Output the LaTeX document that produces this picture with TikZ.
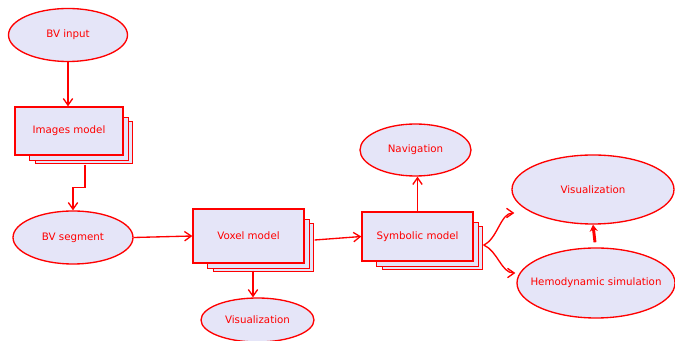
\documentclass[tikz,border=0pt]{standalone}
\usepackage{fontspec}
\setmainfont{DejaVu Sans}
\usepackage{xcolor}
\usetikzlibrary{shapes.geometric, arrows.meta, backgrounds, calc}
\definecolor{BVRed}{RGB}{255,0,0}
\definecolor{BVFill}{RGB}{229,229,248}
\tikzset{
  term/.style={
    ellipse, draw=BVRed, fill=BVFill, line width=1pt,
    inner xsep=-20pt, inner ysep=0pt,
    text=BVRed, font=\fontsize{7.7}{9}\selectfont
  },
  model/.style={
    rectangle, draw=BVRed, fill=BVFill, line width=1pt,
    inner sep=0pt, text=BVRed, font=\fontsize{7.7}{9}\selectfont
  },
  sheet/.style={draw=BVRed, fill=BVFill, line width=1pt},
  arr/.style={-{Straight Barb[length=5pt,width=7pt]}, draw=BVRed, line width=1pt},
  tarr/.style={-{Stealth[length=5pt,width=6pt]}, draw=BVRed, line width=2.2pt}
}

\begin{document}
\begin{tikzpicture}[x=0.75pt, y=-0.75pt]
  \useasboundingbox (0,0) rectangle (675,341);

  % ── Input side ──
  \node[term, minimum width=89.25pt, minimum height=39.75pt] (inp) at (68,35) {BV input};
  \node[model, minimum width=81pt, minimum height=36pt] (img) at (69,131) {Images model};
  \node[term, minimum width=90pt, minimum height=39.75pt] (seg) at (73,237.5) {BV segment};

  % ── Models ──
  \node[model, minimum width=83.25pt, minimum height=40.5pt] (vox) at (248.5,236) {Voxel model};
  \node[term, minimum width=84.75pt, minimum height=33pt] (vis1) at (257.5,320) {Visualization};
  \node[model, minimum width=83.25pt, minimum height=36.75pt] (sym) at (417.5,236.5) {Symbolic model};
  \node[term, minimum width=83.25pt, minimum height=39pt] (nav) at (415.5,150) {Navigation};

  % ── Outputs ──
  \node[term, minimum width=121.5pt, minimum height=51.75pt] (vis2) at (593,189.5) {Visualization};
  \node[term, minimum width=118.5pt, minimum height=52.5pt] (hem) at (596,283) {Hemodynamic simulation};

  % stacked sheets behind the models
  \begin{scope}[on background layer]
    \foreach \m in {img,vox,sym} {
      \draw[sheet] ($(\m.north west)+(21,15)$) rectangle ($(\m.south east)+(9,8)$);
      \draw[sheet] ($(\m.north west)+(15,11)$) rectangle ($(\m.south east)+(5,5)$);
    }
  \end{scope}

  % helper points on the stacks
  \coordinate (imgb) at ([shift={(16,9)}]img.south);
  \coordinate (voxb) at ([shift={(4.5,7)}]vox.south);
  \coordinate (voxr) at ([shift={(10,4)}]vox.east);
  \coordinate (symr) at ([shift={(10,8.5)}]sym.east);
  \coordinate (v2in) at ([shift={(3,23.5)}]vis2.west);
  \coordinate (hmin) at ([shift={(-1,-10)}]hem.west);

  % ── Arrows ──
  \draw[arr] (inp.south) -- (inp.south |- img.north);
  \draw[arr] (imgb) -- ++(0,23) -| (seg.north);
  \draw[arr] (seg.east) -- (vox.west);
  \draw[arr] (voxr) -- (sym.west);
  \draw[arr] (voxb) -- (voxb |- vis1.north);
  \draw[arr] (sym.north) -- (sym.north |- nav.south);
  \draw[arr] (symr) .. controls +(14,-6) and +(-14,0) .. (v2in);
  \draw[arr] (symr) .. controls +(14,6) and +(-14,0) .. (hmin);
  \draw[tarr] ([shift={(-1,-5)}]hem.north) -- (vis2.south);
\end{tikzpicture}
\end{document}
